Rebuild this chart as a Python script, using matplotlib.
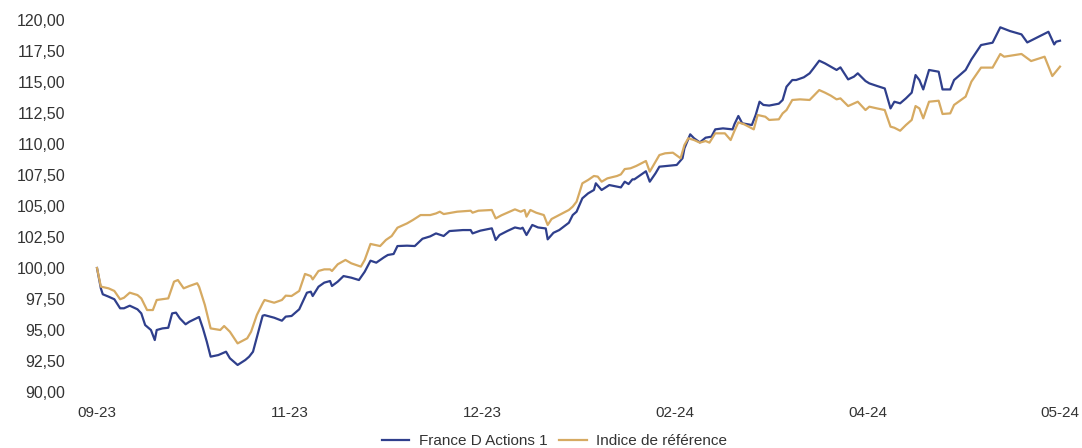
import matplotlib
matplotlib.use('Agg')
import matplotlib.pyplot as plt

# Tick labels (one tick every interval on the position axis)
tick_labels = ['09-23', '11-23', '12-23', '02-24', '04-24', '05-24']
y_ticks = [90, 92.5, 95, 97.5, 100, 102.5, 105, 107.5, 110, 112.5,
           115, 117.5, 120]

# France D Actions 1 (positions in tick intervals, base 100)
fund_x = [0.00, 0.02, 0.03, 0.06, 0.09, 0.12, 0.14, 0.17, 0.21, 0.23,
          0.25, 0.28, 0.30, 0.31, 0.34, 0.37, 0.39, 0.41, 0.43, 0.46,
          0.48, 0.53, 0.55, 0.57, 0.59, 0.63, 0.67, 0.69, 0.73, 0.77,
          0.79, 0.81, 0.84, 0.86, 0.87, 0.92, 0.96, 0.98, 1.01, 1.05,
          1.09, 1.11, 1.12, 1.15, 1.18, 1.21, 1.22, 1.25, 1.28, 1.32,
          1.36, 1.39, 1.42, 1.45, 1.49, 1.51, 1.54, 1.56, 1.61, 1.65,
          1.69, 1.73, 1.76, 1.80, 1.83, 1.90, 1.94, 1.95, 1.99, 2.05,
          2.07, 2.09, 2.13, 2.17, 2.20, 2.21, 2.23, 2.26, 2.29, 2.33,
          2.34, 2.37, 2.40, 2.45, 2.47, 2.49, 2.52, 2.55, 2.58, 2.59,
          2.62, 2.66, 2.70, 2.72, 2.74, 2.76, 2.78, 2.79, 2.81, 2.85,
          2.87, 2.90, 2.92, 2.96, 3.01, 3.04, 3.05, 3.08, 3.10, 3.13,
          3.16, 3.19, 3.21, 3.25, 3.30, 3.31, 3.33, 3.35, 3.40, 3.42,
          3.44, 3.46, 3.49, 3.54, 3.56, 3.58, 3.61, 3.63, 3.67, 3.70,
          3.72, 3.75, 3.78, 3.81, 3.84, 3.86, 3.90, 3.93, 3.95, 3.99,
          4.01, 4.05, 4.09, 4.12, 4.14, 4.17, 4.20, 4.23, 4.25, 4.27,
          4.29, 4.32, 4.37, 4.39, 4.43, 4.45, 4.51, 4.54, 4.59, 4.65,
          4.69, 4.74, 4.80, 4.83, 4.94, 4.97, 4.98, 5.00]
fund = [100.00, 98.36, 97.88, 97.69, 97.48, 96.75, 96.75, 96.96, 96.67, 96.34,
        95.40, 95.00, 94.19, 95.00, 95.13, 95.18, 96.34, 96.40, 95.94, 95.46,
        95.67, 96.05, 95.13, 94.06, 92.85, 92.98, 93.25, 92.72, 92.18, 92.58,
        92.85, 93.25, 95.00, 96.15, 96.20, 95.99, 95.75, 96.08, 96.13, 96.67,
        98.01, 98.09, 97.74, 98.49, 98.82, 98.95, 98.55, 98.90, 99.35, 99.22,
        99.03, 99.70, 100.59, 100.43, 100.86, 101.05, 101.13, 101.77, 101.80, 101.77,
        102.36, 102.55, 102.79, 102.58, 102.98, 103.06, 103.06, 102.79, 103.01, 103.20,
        102.26, 102.66, 102.98, 103.27, 103.17, 103.25, 102.66, 103.47, 103.27, 103.19,
        102.31, 102.84, 103.06, 103.65, 104.27, 104.54, 105.62, 106.02, 106.29, 106.83,
        106.29, 106.69, 106.56, 106.50, 106.96, 106.77, 107.15, 107.15, 107.37, 107.80,
        106.96, 107.64, 108.17, 108.23, 108.31, 108.85, 109.65, 110.78, 110.46, 110.13,
        110.51, 110.59, 111.18, 111.26, 111.18, 111.61, 112.26, 111.67, 111.53, 112.34,
        113.41, 113.15, 113.10, 113.25, 113.55, 114.62, 115.16, 115.16, 115.38, 115.70,
        116.10, 116.72, 116.50, 116.24, 115.97, 116.18, 115.21, 115.43, 115.70, 115.08,
        114.89, 114.68, 114.48, 112.87, 113.41, 113.28, 113.68, 114.14, 115.56, 115.16,
        114.40, 115.97, 115.83, 114.40, 114.40, 115.16, 115.97, 116.82, 117.98, 118.17,
        119.41, 119.11, 118.84, 118.19, 119.05, 118.03, 118.25, 118.33]

# Indice de référence
bench_x = [0.00, 0.02, 0.06, 0.09, 0.12, 0.14, 0.17, 0.21, 0.23, 0.26,
           0.29, 0.31, 0.37, 0.40, 0.42, 0.45, 0.48, 0.52, 0.53, 0.56,
           0.59, 0.64, 0.66, 0.69, 0.73, 0.78, 0.80, 0.83, 0.86, 0.87,
           0.92, 0.96, 0.98, 1.01, 1.05, 1.08, 1.11, 1.12, 1.15, 1.18,
           1.21, 1.22, 1.25, 1.29, 1.32, 1.37, 1.39, 1.42, 1.47, 1.50,
           1.53, 1.56, 1.61, 1.64, 1.68, 1.73, 1.76, 1.78, 1.80, 1.87,
           1.94, 1.95, 1.98, 2.05, 2.07, 2.10, 2.17, 2.20, 2.22, 2.23,
           2.25, 2.28, 2.32, 2.34, 2.36, 2.40, 2.45, 2.47, 2.49, 2.52,
           2.55, 2.58, 2.60, 2.62, 2.65, 2.70, 2.72, 2.74, 2.77, 2.80,
           2.85, 2.87, 2.90, 2.92, 2.95, 2.99, 3.03, 3.05, 3.07, 3.10,
           3.13, 3.16, 3.18, 3.21, 3.26, 3.29, 3.31, 3.33, 3.36, 3.41,
           3.43, 3.47, 3.49, 3.54, 3.56, 3.58, 3.61, 3.65, 3.70, 3.72,
           3.75, 3.78, 3.81, 3.84, 3.86, 3.90, 3.95, 3.99, 4.01, 4.05,
           4.09, 4.12, 4.14, 4.17, 4.20, 4.23, 4.25, 4.27, 4.29, 4.32,
           4.37, 4.39, 4.43, 4.45, 4.51, 4.54, 4.59, 4.65, 4.69, 4.71,
           4.80, 4.85, 4.92, 4.96, 5.00]
bench = [100.00, 98.50, 98.36, 98.15, 97.48, 97.60, 98.01, 97.82, 97.55, 96.61,
         96.61, 97.42, 97.55, 98.90, 99.03, 98.36, 98.55, 98.77, 98.49, 97.02,
         95.13, 95.00, 95.32, 94.86, 93.92, 94.33, 94.86, 96.21, 97.15, 97.42,
         97.20, 97.42, 97.77, 97.74, 98.15, 99.52, 99.35, 99.08, 99.76, 99.89,
         99.89, 99.76, 100.30, 100.65, 100.38, 100.11, 100.65, 101.94, 101.77, 102.26,
         102.58, 103.25, 103.60, 103.87, 104.27, 104.27, 104.40, 104.54, 104.35, 104.54,
         104.62, 104.46, 104.62, 104.68, 104.00, 104.25, 104.73, 104.54, 104.68, 104.14,
         104.68, 104.46, 104.27, 103.47, 103.95, 104.27, 104.68, 104.95, 105.35, 106.83,
         107.10, 107.42, 107.37, 106.96, 107.23, 107.42, 107.55, 107.98, 108.04, 108.23,
         108.63, 107.77, 108.57, 109.11, 109.25, 109.30, 108.85, 109.92, 110.46, 110.32,
         110.11, 110.24, 110.11, 110.86, 110.86, 110.32, 111.07, 111.75, 111.59, 111.18,
         112.34, 112.20, 111.94, 111.99, 112.47, 112.74, 113.55, 113.60, 113.55, 113.87,
         114.35, 114.14, 113.90, 113.60, 113.68, 113.06, 113.41, 112.74, 113.01, 112.87,
         112.74, 111.40, 111.31, 111.07, 111.53, 111.94, 113.06, 112.87, 112.07, 113.41,
         113.49, 112.42, 112.47, 113.15, 113.82, 115.03, 116.16, 116.16, 117.26, 117.04,
         117.26, 116.69, 117.04, 115.48, 116.24]

fund_color = '#2f3f8c'
bench_color = '#d6aa62'

plt.rcParams['font.family'] = ['Liberation Sans', 'DejaVu Sans']

fig = plt.figure(figsize=(10.82, 4.48), dpi=100)
ax = fig.add_axes([97 / 1082, 56 / 448, 963 / 1082, 372 / 448])

ax.plot(fund_x, fund, color=fund_color, linewidth=1.6,
        label='France D Actions 1', clip_on=False)
ax.plot(bench_x, bench, color=bench_color, linewidth=1.6,
        label='Indice de référence', clip_on=False)

ax.set_xlim(0, 5)
ax.set_ylim(90, 120)
ax.set_xticks(range(len(tick_labels)))
ax.set_xticklabels(tick_labels)
ax.set_yticks(y_ticks)
ax.set_yticklabels([f'{v:.2f}'.replace('.', ',') for v in y_ticks])
ax.tick_params(axis='both', length=0, labelsize=11, colors='#333333')
ax.tick_params(axis='y', labelsize=11.5, pad=23)
ax.tick_params(axis='x', pad=10)
for s in ax.spines.values():
    s.set_visible(False)

# legend centred slightly right of the figure centre, as in the original
fig.legend(loc='center', bbox_to_anchor=(0.5125, 7 / 448), ncol=2,
           frameon=False, fontsize=11, handlelength=1.8,
           columnspacing=0.8, handletextpad=0.6, labelcolor='#333333')

fig.savefig('out.png', dpi=100)
